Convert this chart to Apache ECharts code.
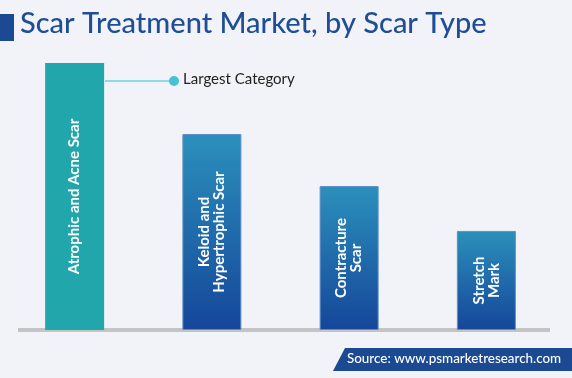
<!DOCTYPE html>
<html>
<head>
<meta charset="utf-8">
<script src="https://cdn.jsdelivr.net/npm/echarts@6/dist/echarts.min.js"></script>
<style>
  html, body { margin: 0; padding: 0; background: #f2f3f8; }
  #main { width: 572px; height: 378px; }
</style>
</head>
<body>
<div id="main"></div>
<script>
// scar types, share of market (relative bar heights)
var categories = ['Atrophic and Acne Scar', 'Keloid and\nHypertrophic Scar', 'Contracture\nScar', 'Stretch\nMark'];
var values = [100, 73.4, 53.9, 37.1];
var barColors = ['#21a6ab', 'blue', 'blue', 'blue'];

var blueGrad = new echarts.graphic.LinearGradient(0, 0, 0, 1, [
    {offset: 0, color: '#2b90bb'},
    {offset: 1, color: '#15469a'}
]);

var dom = document.getElementById('main');
var myChart = echarts.init(dom);

var option = {
    backgroundColor: '#f2f3f8',
    animation: false,
    grid: {left: 6, right: 17, top: 63, bottom: 48},
    xAxis: {
        type: 'category',
        data: categories,
        axisLine: {show: false},
        axisTick: {show: false},
        axisLabel: {show: false}
    },
    yAxis: {
        type: 'value',
        min: 0,
        max: 100,
        show: false,
        splitLine: {show: false}
    },
    series: [{
        type: 'bar',
        barWidth: 59,
        z: 3,
        data: values.map(function (v, i) {
            return {
                value: v,
                itemStyle: barColors[i] === 'blue'
                    ? {color: blueGrad, borderColor: '#5f8fc8', borderWidth: 1}
                    : {color: barColors[i]}
            };
        }),
        label: {
            show: true,
            position: 'inside',
            rotate: 90,
            formatter: function (p) { return p.name; },
            color: '#ffffff',
            fontFamily: 'Lato',
            fontWeight: 'bold',
            fontSize: 15,
            lineHeight: 15,
            align: 'center',
            verticalAlign: 'middle'
        }
    }],
    graphic: [
        // title block
        {type: 'rect', left: 0, top: 14, z: 10, shape: {width: 14, height: 27}, style: {fill: '#1b4a93'}},
        {type: 'text', left: 20, top: 9, z: 10, style: {
            text: 'Scar Treatment Market, by Scar Type',
            fill: '#1f4e96', font: '500 29px Lato'
        }},
        // baseline
        {type: 'rect', left: 18, top: 328, z: 1, shape: {width: 532, height: 4}, style: {fill: '#c4c4c6'}},
        // largest category callout
        {type: 'line', z: 10, shape: {x1: 105, y1: 81, x2: 172, y2: 81}, style: {stroke: '#8fd8e6', lineWidth: 2}},
        {type: 'circle', z: 11, shape: {cx: 174, cy: 81, r: 5}, style: {fill: '#48c0d6'}},
        {type: 'text', left: 183, top: 72, z: 10, style: {
            text: 'Largest Category', fill: '#222222', font: '15px Lato'
        }},
        // source banner
        {type: 'polygon', z: 10, shape: {points: [[333, 371], [345, 348], [572, 348], [572, 371]]}, style: {fill: '#1b4a93'}},
        {type: 'text', left: 347, top: 352, z: 11, style: {
            text: 'Source: www.psmarketresearch.com', fill: '#ffffff', font: '500 13.4px Lato'
        }}
    ]
};

myChart.setOption(option);
</script>
</body>
</html>
